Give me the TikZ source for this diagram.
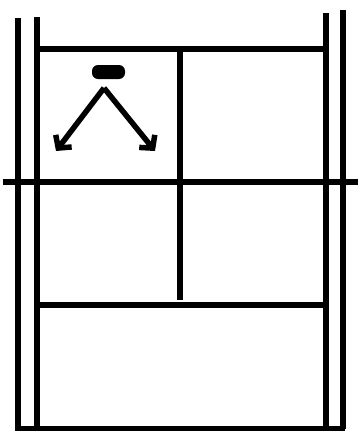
\documentclass[tikz,border=0pt]{standalone}
\usepackage{tikz}
\usetikzlibrary{arrows.meta}

\begin{document}
\begin{tikzpicture}[
    x=1pt, y=-1pt,
    wall/.style={line width=6.5pt, color=black},
    line/.style={line width=6pt, color=black},
    arrow/.style={-{Straight Barb[length=9pt, width=20pt]}, line width=5.5pt, line join=round, color=black},
]
\useasboundingbox (0,0) rectangle (358,431);
% side rails
\draw[wall] (18,18) -- (18,429);
\draw[wall] (37,17) -- (37,429);
\draw[wall] (326,13) -- (326,429);
\draw[wall] (343,10) -- (343,429);
% cross lines
\draw[line] (37,49) -- (326,49);
\draw[line] (3,182) -- (358,182);
\draw[line] (37,305) -- (326,305);
\draw[line] (15,429) -- (345,429);
\draw[line] (180,49) -- (180,300);
% the symbol
\fill[rounded corners=6pt] (92,65) rectangle (125,79);
\coordinate (apex) at (104,88);
\coordinate (lfoot) at (56,151);
\coordinate (rfoot) at (155,151);
\draw[arrow] (apex) -- (lfoot);
\draw[arrow] (apex) -- (rfoot);
\end{tikzpicture}
\end{document}
